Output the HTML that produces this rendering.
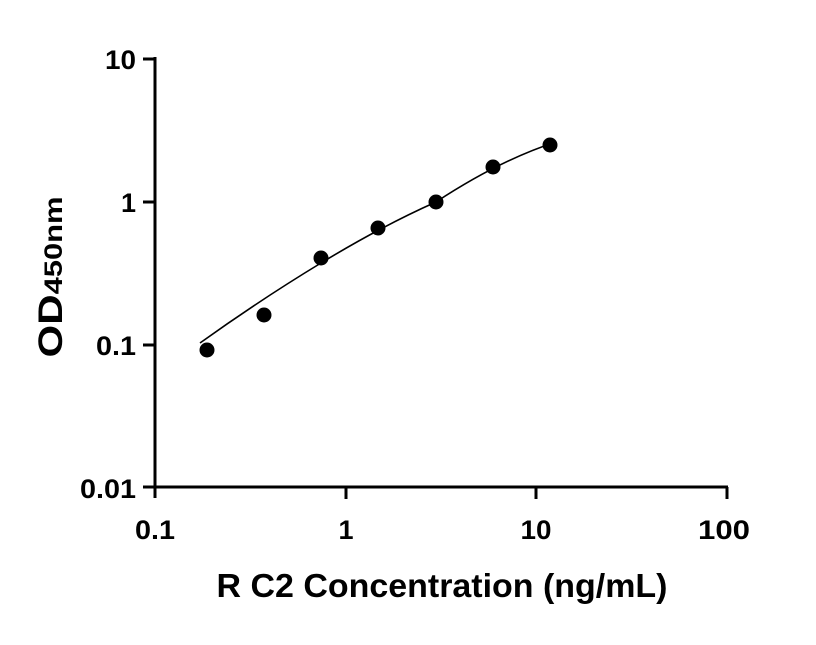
<!DOCTYPE html>
<html><head><style>body{margin:0;background:#fff}</style></head><body>
<svg width="816" height="640" xmlns="http://www.w3.org/2000/svg" font-family="Liberation Sans, sans-serif" font-weight="bold">
<g stroke="#000" stroke-width="3" fill="none">
<line x1="155" y1="57" x2="155" y2="498"/>
<line x1="143" y1="487" x2="728" y2="487"/>
<line x1="143" y1="59" x2="155" y2="59"/>
<line x1="143" y1="202" x2="155" y2="202"/>
<line x1="143" y1="345" x2="155" y2="345"/>
<line x1="346" y1="487" x2="346" y2="499"/>
<line x1="536" y1="487" x2="536" y2="499"/>
<line x1="727" y1="487" x2="727" y2="499"/>
</g>
<g font-size="27" text-anchor="end">
<text x="136" y="69" textLength="31" lengthAdjust="spacingAndGlyphs">10</text>
<text x="136" y="212">1</text>
<text x="136" y="355" textLength="40" lengthAdjust="spacingAndGlyphs">0.1</text>
<text x="136" y="498" textLength="56" lengthAdjust="spacingAndGlyphs">0.01</text>
</g>
<g font-size="27" text-anchor="middle">
<text x="155" y="539" textLength="40" lengthAdjust="spacingAndGlyphs">0.1</text>
<text x="346" y="539">1</text>
<text x="536" y="539" textLength="31" lengthAdjust="spacingAndGlyphs">10</text>
<text x="724" y="539" textLength="52" lengthAdjust="spacingAndGlyphs">100</text>
</g>
<text x="442" y="597" font-size="33" text-anchor="middle" textLength="451" lengthAdjust="spacingAndGlyphs">R C2 Concentration (ng/mL)</text>
<text transform="translate(62,277) rotate(-90)" font-size="34" text-anchor="middle" textLength="161" lengthAdjust="spacingAndGlyphs">OD<tspan font-size="25">450nm</tspan></text>
<path d="M200,343 Q260,300 321,263 T436,202 Q500,160 556,142" stroke="#000" stroke-width="1.6" fill="none"/>
<g fill="#000">
<circle cx="207" cy="350" r="7.5"/>
<circle cx="264" cy="315" r="7.5"/>
<circle cx="321" cy="258" r="7.5"/>
<circle cx="378" cy="228" r="7.5"/>
<circle cx="436" cy="202" r="7.5"/>
<circle cx="493" cy="167" r="7.5"/>
<circle cx="550" cy="145" r="7.5"/>
</g>
</svg>
</body></html>
